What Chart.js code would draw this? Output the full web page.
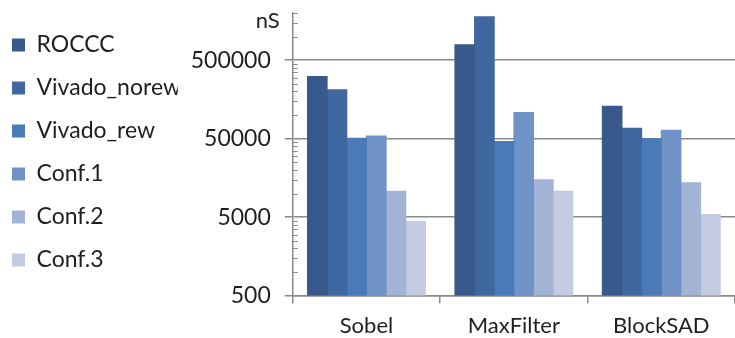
<!DOCTYPE html>
<html>
<head>
<meta charset="utf-8">
<script src="https://cdn.jsdelivr.net/npm/chart.js@4/dist/chart.umd.min.js"></script>
<style>
  html, body { margin: 0; padding: 0; background: #ffffff; }
  #wrap { width: 735px; height: 338px; position: relative; }
</style>
</head>
<body>
<div id="wrap"><canvas id="c"></canvas></div>
<script>
// Benchmarks on the category axis
const categories = ['Sobel', 'MaxFilter', 'BlockSAD'];

// Execution time per implementation (nS)
const roccc       = [310000, 790000, 130000];
const vivadoNorew = [210000, 1790000, 68000];
const vivadoRew   = [50500, 46000, 50000];
const conf1       = [54000, 108000, 64000];
const conf2       = [10700, 15000, 13700];
const conf3       = [4400, 10700, 5400];

const seriesNames = ['ROCCC', 'Vivado_norew', 'Vivado_rew', 'Conf.1', 'Conf.2', 'Conf.3'];
const seriesColors = ['#37598B', '#3F67A0', '#4A7AB8', '#7093C7', '#A3B3D6', '#C3CBE1'];

// Log axis: labelled decades and the axis range
const majorTicks = [500, 5000, 50000, 500000];
const axisMin = 500;
const axisMax = 2000000;
const unitLabel = 'nS';

const FONT = 'Lato';
const TEXT = '#1f1f1f';
const LINE = '#8a8a8a';

const seriesValues = [roccc, vivadoNorew, vivadoRew, conf1, conf2, conf3];

// Minor tick marks at 2..9 times each labelled decade
const minorTicks = [];
majorTicks.forEach(m => {
  for (let k = 2; k <= 9; k++) {
    const v = m * k;
    if (v <= axisMax) minorTicks.push(v);
  }
});

const axisExtras = {
  id: 'axisExtras',
  afterDraw(chart) {
    const y = chart.scales.y;
    const ctx = chart.ctx;
    ctx.save();
    ctx.strokeStyle = LINE;
    ctx.lineWidth = 1;
    const x0 = y.right;
    minorTicks.forEach(v => {
      const py = Math.round(y.getPixelForValue(v)) + 0.5;
      ctx.beginPath();
      ctx.moveTo(x0, py);
      ctx.lineTo(x0 + 5, py);
      ctx.stroke();
    });
    // unit caption at the top of the value axis
    ctx.fillStyle = TEXT;
    ctx.font = '22px ' + FONT;
    ctx.textAlign = 'right';
    ctx.textBaseline = 'alphabetic';
    ctx.fillText(unitLabel, x0 - 13, 28);
    ctx.restore();
  }
};

new Chart(document.getElementById('c'), {
  type: 'bar',
  data: {
    labels: categories,
    datasets: seriesNames.map((name, i) => ({
      label: name,
      data: seriesValues[i],
      backgroundColor: seriesColors[i],
      borderWidth: 0,
      inflateAmount: 0.5,
      categoryPercentage: 0.8,
      barPercentage: 1.0
    }))
  },
  options: {
    responsive: true,
    maintainAspectRatio: false,
    animation: false,
    layout: { padding: { top: 0, right: 0, left: -8, bottom: -10 } },
    plugins: {
      legend: {
        position: 'left',
        align: 'start',
        title: {
          display: true,
          text: '',
          font: { family: FONT, size: 10, lineHeight: 1 },
          padding: 1.75
        },
        labels: {
          font: { family: FONT, size: 23 },
          color: TEXT,
          boxWidth: 13,
          boxHeight: 13,
          padding: 20
        }
      },
      tooltip: { enabled: false }
    },
    scales: {
      x: {
        offset: true,
        grid: {
          offset: true,
          drawOnChartArea: false,
          color: LINE,
          tickLength: 8,
          lineWidth: 1.5
        },
        border: { color: LINE, width: 1.5 },
        ticks: {
          font: { family: FONT, size: 22, lineHeight: 1.2 },
          color: TEXT,
          padding: 9
        }
      },
      y: {
        type: 'logarithmic',
        min: axisMin,
        max: axisMax,
        afterBuildTicks(scale) {
          scale.ticks = majorTicks.map(v => ({ value: v, major: true }));
        },
        afterFit(scale) {
          scale.width = 115;
          scale.paddingTop = 13;
          scale.paddingBottom = 0;
        },
        grid: {
          color: LINE,
          lineWidth: 1.5,
          tickLength: 8
        },
        border: { color: LINE, width: 1.5 },
        ticks: {
          font: { family: FONT, size: 23 },
          color: TEXT,
          padding: 14,
          callback: v => String(v)
        }
      }
    }
  },
  plugins: [axisExtras]
});
</script>
</body>
</html>
